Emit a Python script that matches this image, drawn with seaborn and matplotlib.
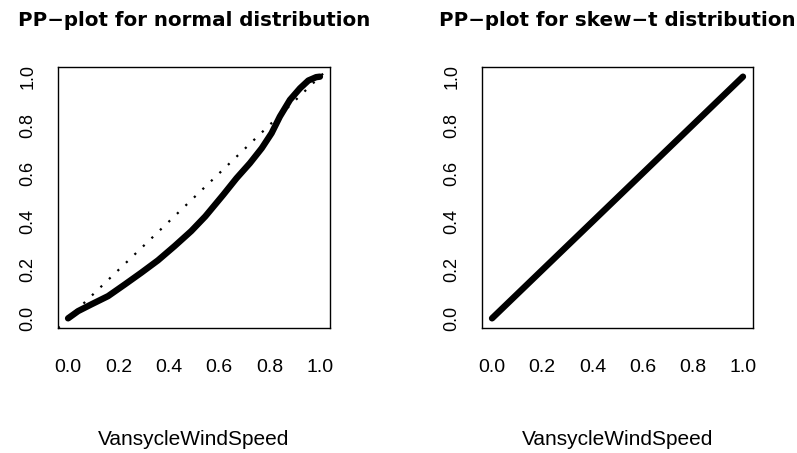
import matplotlib
matplotlib.use("Agg")
import matplotlib.pyplot as plt
import seaborn as sns
import pandas as pd

# PP-plot values
norm_theo = [0.0, 0.04, 0.093, 0.159, 0.225, 0.291, 0.357, 0.423, 0.489, 0.545,
             0.616, 0.669, 0.722, 0.769, 0.808, 0.841, 0.881, 0.921, 0.954, 0.985, 1.0]
norm_emp = [0.0, 0.03, 0.058, 0.092, 0.14, 0.189, 0.24, 0.299, 0.361, 0.422,
            0.511, 0.58, 0.642, 0.704, 0.766, 0.835, 0.904, 0.952, 0.984, 0.998, 1.0]
skew_theo = [0.0, 0.1, 0.2, 0.3, 0.4, 0.5, 0.6, 0.7, 0.8, 0.9, 1.0]
skew_emp = [0.0, 0.1, 0.2, 0.3, 0.4, 0.5, 0.6, 0.7, 0.8, 0.9, 1.0]
ticks = [0.0, 0.2, 0.4, 0.6, 0.8, 1.0]
tick_labels = ["0.0", "0.2", "0.4", "0.6", "0.8", "1.0"]
titles = ["PP\u2212plot for normal distribution", "PP\u2212plot for skew\u2212t distribution"]
xlab = "VansycleWindSpeed"

sns.set_style("white")
plt.rcParams["font.family"] = ["Liberation Sans", "DejaVu Sans"]
plt.rcParams.update({"text.color": "black", "axes.labelcolor": "black",
                     "xtick.color": "black", "ytick.color": "black"})

fig = plt.figure(figsize=(7.97, 4.53), dpi=100)
ax1 = fig.add_axes([58 / 797, 1 - 328 / 453, 272 / 797, 261 / 453])
ax2 = fig.add_axes([482 / 797, 1 - 328 / 453, 271 / 797, 261 / 453])

panels = [
    (ax1, norm_theo, norm_emp, True),
    (ax2, skew_theo, skew_emp, False),
]

for i, (ax, xs, ys, ref_line) in enumerate(panels):
    df = pd.DataFrame({"theo": xs, "emp": ys})
    if ref_line:
        # dotted 1:1 reference line
        ax.axline((0, 0), slope=1, color="black", lw=1.6,
                  linestyle=(0, (1, 4.3)), zorder=2)
    sns.lineplot(data=df, x="theo", y="emp", ax=ax, color="black", lw=4.6,
                 sort=False, solid_capstyle="round", solid_joinstyle="round", zorder=3)
    ax.set_xlim(-0.04, 1.04)
    ax.set_ylim(-0.04, 1.04)
    ax.set_xticks(ticks)
    ax.set_yticks(ticks)
    ax.set_xticklabels(tick_labels, fontsize=14)
    ax.set_yticklabels(tick_labels, fontsize=13, rotation=90, va="center")
    ax.tick_params(axis="both", direction="out", length=9.4, width=1, color="black")
    ax.tick_params(axis="x", pad=13)
    ax.tick_params(axis="y", pad=6)
    for s in ax.spines.values():
        s.set_color("black")
        s.set_linewidth(1)
    ax.set_ylabel("")
    ax.set_xlabel(xlab, fontsize=15, labelpad=39)

    cx = (ax.get_position().x0 + ax.get_position().x1) / 2
    fig.text(cx, 1 - 26 / 453, titles[i], ha="center", va="baseline",
             family="DejaVu Sans", fontsize=14.3, fontweight="bold")

fig.savefig("out.png", dpi=100)
